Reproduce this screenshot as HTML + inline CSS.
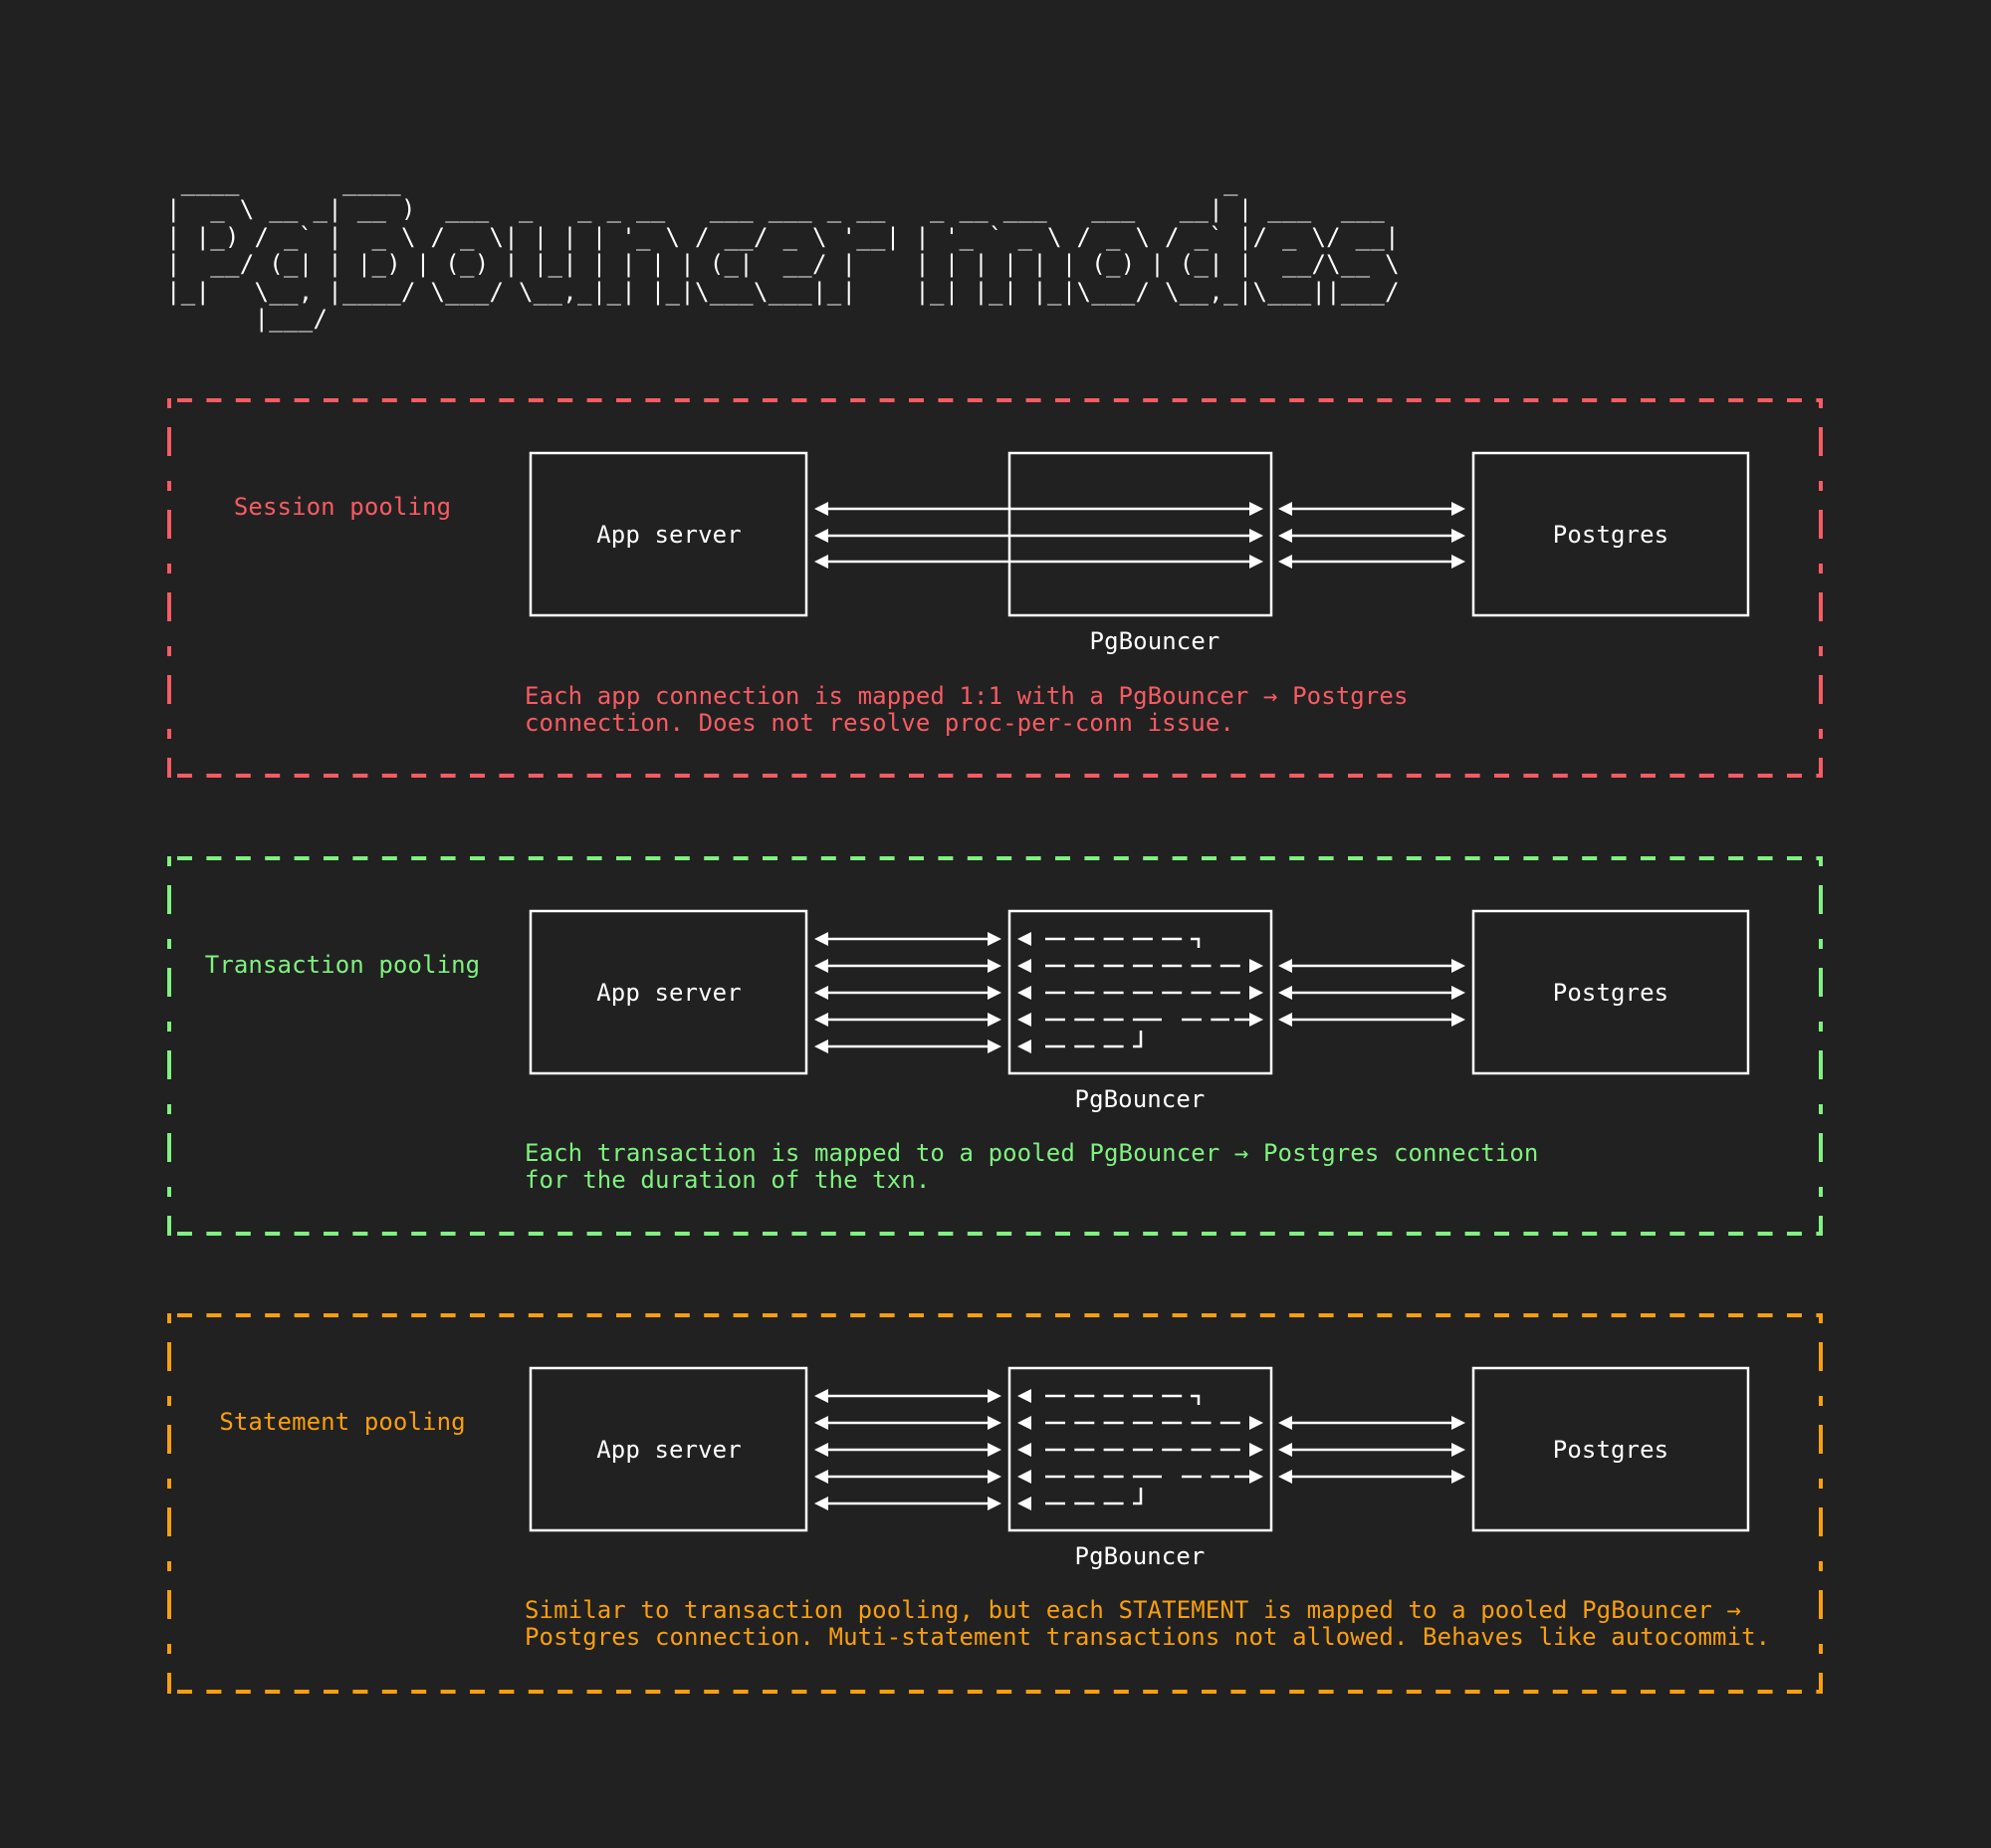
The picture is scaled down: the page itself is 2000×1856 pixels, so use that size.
<!DOCTYPE html>
<html><head><meta charset="utf-8"><style>
html,body{margin:0;padding:0;background:#212121;}
body{width:2000px;height:1856px;position:relative;overflow:hidden;font-family:"DejaVu Sans Mono","Liberation Mono",monospace;}
pre{position:absolute;left:167px;top:170px;margin:0;font-family:"DejaVu Sans Mono","Liberation Mono",monospace;font-size:24px;line-height:27.4px;color:#fff;letter-spacing:0.3px;}
svg{position:absolute;left:0;top:0;}
svg text{letter-spacing:0.1px;}
</style></head><body>
<pre> ____       ____                                                        _
|  _ \ __ _| __ )  ___  _   _ _ __   ___ ___ _ __   _ __ ___   ___   __| | ___  ___
| |_) / _` |  _ \ / _ \| | | | '_ \ / __/ _ \ '__| | '_ ` _ \ / _ \ / _` |/ _ \/ __|
|  __/ (_| | |_) | (_) | |_| | | | | (_|  __/ |    | | | | | | (_) | (_| |  __/\__ \
|_|   \__, |____/ \___/ \__,_|_| |_|\___\___|_|    |_| |_| |_|\___/ \__,_|\___||___/
      |___/</pre>
<svg width="2000" height="1856" viewBox="0 0 2000 1856" xmlns="http://www.w3.org/2000/svg" font-family="DejaVu Sans Mono, Liberation Mono, monospace" font-size="24">
<defs>
<g id="la" fill="#fff" stroke="#fff" stroke-width="2.5"><line x1="826" x2="998" y1="0" y2="0"/><polygon points="818,0 832,-7 832,7" stroke="none"/><polygon points="1006,0 992,-7 992,7" stroke="none"/></g>
<g id="ra" fill="#fff" stroke="#fff" stroke-width="2.5"><line x1="1290" x2="1466" y1="0" y2="0"/><polygon points="1284,0 1298,-7 1298,7" stroke="none"/><polygon points="1472,0 1458,-7 1458,7" stroke="none"/></g>
<g id="sa" fill="#fff" stroke="#fff" stroke-width="2.5"><line x1="826" x2="1262" y1="0" y2="0"/><polygon points="818,0 832,-7 832,7" stroke="none"/><polygon points="1269,0 1255,-7 1255,7" stroke="none"/></g>
<g id="boxes" fill="none" stroke="#fff" stroke-width="2.5">
  <rect x="533" y="455" width="277" height="163"/>
  <rect x="1014" y="455" width="263" height="163"/>
  <rect x="1480" y="455" width="276" height="163"/>
</g>
<g id="mid" fill="#fff" stroke="#fff" stroke-width="2.5">
  <use href="#la" y="943"/><use href="#la" y="970"/><use href="#la" y="997"/><use href="#la" y="1024"/><use href="#la" y="1051"/>
  <use href="#ra" y="970"/><use href="#ra" y="997"/><use href="#ra" y="1024"/>
  <polygon points="1022,943 1036,936 1036,950" stroke="none"/>
  <line x1="1050" x2="1190" y1="943" y2="943" stroke-dasharray="20 9.3"/>
  <polyline points="1196,943 1204,943 1204,952" fill="none"/>
  <polygon points="1022,970 1036,963 1036,977" stroke="none"/>
  <line x1="1050" x2="1250" y1="970" y2="970" stroke-dasharray="20 9.3"/>
  <polygon points="1269,970 1255,963 1255,977" stroke="none"/>
  <polygon points="1022,997 1036,990 1036,1004" stroke="none"/>
  <line x1="1050" x2="1250" y1="997" y2="997" stroke-dasharray="20 9.3"/>
  <polygon points="1269,997 1255,990 1255,1004" stroke="none"/>
  <polygon points="1022,1024 1036,1017 1036,1031" stroke="none"/>
  <line x1="1050" x2="1138" y1="1024" y2="1024" stroke-dasharray="20 9.3"/>
  <line x1="1138" x2="1167" y1="1024" y2="1024"/>
  <line x1="1187" x2="1235" y1="1024" y2="1024" stroke-dasharray="20 9.3"/>
  <line x1="1240" x2="1256" y1="1024" y2="1024"/>
  <polygon points="1269,1024 1255,1017 1255,1031" stroke="none"/>
  <polygon points="1022,1051 1036,1044 1036,1058" stroke="none"/>
  <line x1="1050" x2="1130" y1="1051" y2="1051" stroke-dasharray="20 9.3"/>
  <polyline points="1138,1051 1146,1051 1146,1035" fill="none"/>
</g>
</defs>

<g fill="none" stroke-width="4">
  <g stroke="#f95b63">
    <line x1="170" y1="402" x2="1829" y2="402" stroke-dasharray="15 14.4" stroke-dashoffset="-8"/>
    <line x1="170" y1="779" x2="1829" y2="779" stroke-dasharray="15 14.4" stroke-dashoffset="-8"/>
    <line x1="170" y1="400" x2="170" y2="781" stroke-dasharray="10 19 29 25"/>
    <line x1="1829" y1="400" x2="1829" y2="781" stroke-dasharray="10 19 29 25"/>
  </g>
  <g stroke="#7ff27f">
    <line x1="170" y1="862" x2="1829" y2="862" stroke-dasharray="15 14.4" stroke-dashoffset="-8"/>
    <line x1="170" y1="1239" x2="1829" y2="1239" stroke-dasharray="15 14.4" stroke-dashoffset="-8"/>
    <line x1="170" y1="860" x2="170" y2="1241" stroke-dasharray="10 19 29 25"/>
    <line x1="1829" y1="860" x2="1829" y2="1241" stroke-dasharray="10 19 29 25"/>
  </g>
  <g stroke="#fa9f0c">
    <line x1="170" y1="1321" x2="1829" y2="1321" stroke-dasharray="15 14.4" stroke-dashoffset="-8"/>
    <line x1="170" y1="1699" x2="1829" y2="1699" stroke-dasharray="15 14.4" stroke-dashoffset="-8"/>
    <line x1="170" y1="1319" x2="170" y2="1701" stroke-dasharray="10 19 29 25"/>
    <line x1="1829" y1="1319" x2="1829" y2="1701" stroke-dasharray="10 19 29 25"/>
  </g>
</g>

<!-- session -->
<use href="#boxes"/>
<use href="#sa" y="511"/><use href="#sa" y="538"/><use href="#sa" y="564"/>
<use href="#ra" y="511"/><use href="#ra" y="538"/><use href="#ra" y="564"/>
<g fill="#fff" text-anchor="middle">
  <text x="672" y="545">App server</text>
  <text x="1618" y="545">Postgres</text>
  <text x="1160" y="652">PgBouncer</text>
</g>
<text x="344" y="517" fill="#f95b63" text-anchor="middle">Session pooling</text>
<text x="527" y="707" fill="#f95b63">Each app connection is mapped 1:1 with a PgBouncer → Postgres</text>
<text x="527" y="734" fill="#f95b63">connection. Does not resolve proc-per-conn issue.</text>

<!-- transaction -->
<use href="#boxes" y="460"/>
<use href="#mid"/>
<g fill="#fff" text-anchor="middle">
  <text x="672" y="1005">App server</text>
  <text x="1618" y="1005">Postgres</text>
  <text x="1145" y="1112">PgBouncer</text>
</g>
<text x="344" y="977" fill="#7ff27f" text-anchor="middle">Transaction pooling</text>
<text x="527" y="1166" fill="#7ff27f">Each transaction is mapped to a pooled PgBouncer → Postgres connection</text>
<text x="527" y="1193" fill="#7ff27f">for the duration of the txn.</text>

<!-- statement -->
<use href="#boxes" y="919"/>
<use href="#mid" y="459"/>
<g fill="#fff" text-anchor="middle">
  <text x="672" y="1464">App server</text>
  <text x="1618" y="1464">Postgres</text>
  <text x="1145" y="1571">PgBouncer</text>
</g>
<text x="344" y="1436" fill="#fa9f0c" text-anchor="middle">Statement pooling</text>
<text x="527" y="1625" fill="#fa9f0c">Similar to transaction pooling, but each STATEMENT is mapped to a pooled PgBouncer →</text>
<text x="527" y="1652" fill="#fa9f0c">Postgres connection. Muti-statement transactions not allowed. Behaves like autocommit.</text>
</svg>
</body></html>
